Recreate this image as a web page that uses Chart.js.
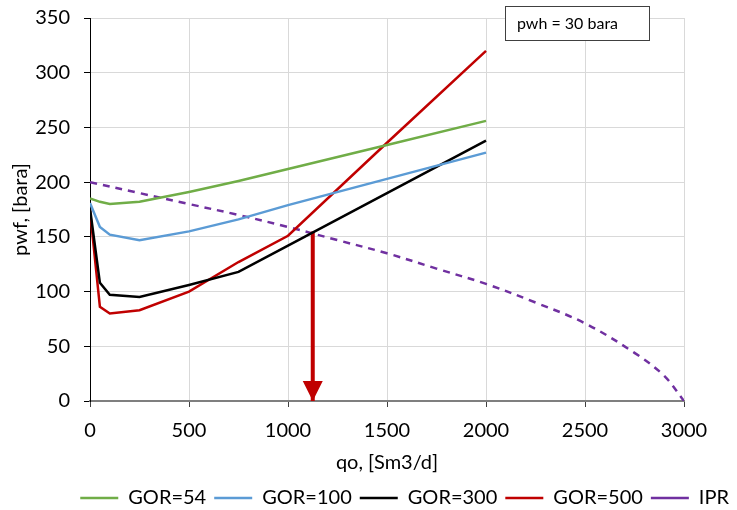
<!DOCTYPE html>
<html>
<head>
<meta charset="utf-8">
<script src="https://cdn.jsdelivr.net/npm/chart.js@4/dist/chart.umd.min.js"></script>
<style>
  html, body { margin: 0; padding: 0; background: #ffffff; }
  #wrap { width: 737px; height: 510px; position: relative; }
</style>
</head>
<body>
<div id="wrap"><canvas id="c" width="737" height="510"></canvas></div>
<script>
// ---- data ----
const qo      = [0, 50, 100, 250, 500, 750, 1000, 1500, 2000];
const gor54   = [185, 182, 180, 182, 191, 201, 212, 234, 256];
const gor100  = [181, 159, 152, 147, 155, 166, 179, 203, 227];
const gor300  = [176, 108, 97, 95, 106, 118, 142, 190, 238];
const gor500  = [174, 86, 80, 83, 100, 127, 151, 236, 320];
const qIPR    = [0, 250, 500, 750, 1000, 1250, 1500, 1750, 2000, 2250, 2500, 2750, 2900, 3000];
const pIPR    = [200, 190, 180, 170, 159, 147, 135, 121, 107, 90, 71, 44, 23, 0];
const opQ     = [1125, 1125];
const opP     = [155, 0];
const xTicks  = [0, 500, 1000, 1500, 2000, 2500, 3000];
const yTicks  = [0, 50, 100, 150, 200, 250, 300, 350];
const seriesNames = ['GOR=54', 'GOR=100', 'GOR=300', 'GOR=500', 'IPR'];
const noteText = 'pwh = 30 bara';

const pts = (xs, ys) => xs.map((x, i) => ({ x: x, y: ys[i] }));
const FONT = 'Lato, "Open Sans", sans-serif';

const arrowHead = {
  id: 'arrowHead',
  afterDatasetsDraw(chart) {
    const ds = chart.data.datasets.find(d => d.isArrow);
    if (!ds) return;
    const xs = chart.scales.x, ys = chart.scales.y;
    const end = ds.data[ds.data.length - 1];
    const px = xs.getPixelForValue(end.x), py = ys.getPixelForValue(end.y);
    const ctx = chart.ctx;
    ctx.save();
    ctx.fillStyle = '#c00000';
    ctx.beginPath();
    ctx.moveTo(px, py);
    ctx.lineTo(px - 10, py - 20);
    ctx.lineTo(px + 10, py - 20);
    ctx.closePath();
    ctx.fill();
    ctx.restore();
  }
};

const noteBox = {
  id: 'noteBox',
  afterDraw(chart) {
    const ctx = chart.ctx;
    ctx.save();
    ctx.fillStyle = '#ffffff';
    ctx.fillRect(505.5, 6.5, 144, 34);
    ctx.strokeStyle = '#404040';
    ctx.lineWidth = 1;
    ctx.strokeRect(505.5, 6.5, 144, 34);
    ctx.fillStyle = '#000000';
    ctx.font = '16px ' + FONT;
    ctx.textBaseline = 'middle';
    ctx.textAlign = 'left';
    ctx.fillText(noteText, 517, 24);
    ctx.restore();
  }
};

const colors = ['#70ad47', '#5b9bd5', '#000000', '#c00000', '#7030a0'];
const series = [gor54, gor100, gor300, gor500];

const datasets = series.map((s, i) => ({
  label: seriesNames[i],
  data: pts(qo, s),
  borderColor: colors[i],
  backgroundColor: colors[i],
  borderWidth: 2.5,
  pointRadius: 0,
  tension: 0,
  fill: false
}));
datasets.push({
  label: seriesNames[4],
  data: pts(qIPR, pIPR),
  borderColor: colors[4],
  backgroundColor: colors[4],
  borderWidth: 2.5,
  borderDash: [7, 6],
  pointRadius: 0,
  tension: 0.35,
  fill: false
});
datasets.push({
  label: 'arrow',
  isArrow: true,
  data: pts(opQ, opP),
  borderColor: '#c00000',
  backgroundColor: '#c00000',
  borderWidth: 4,
  pointRadius: 0,
  fill: false
});

new Chart(document.getElementById('c'), {
  type: 'line',
  data: { datasets: datasets },
  plugins: [arrowHead, noteBox],
  options: {
    responsive: false,
    animation: false,
    layout: { padding: { left: 0, right: 0, top: 18, bottom: -8 } },
    plugins: {
      tooltip: { enabled: false },
      legend: {
        position: 'bottom',
        align: 'end',
        labels: {
          filter: (item) => item.text !== 'arrow',
          usePointStyle: true,
          pointStyle: 'line',
          pointStyleWidth: 38,
          boxHeight: 2,
          padding: 8,
          color: '#000000',
          font: { family: FONT, size: 20 }
        }
      }
    },
    scales: {
      x: {
        type: 'linear',
        min: 0, max: 3000,
        afterBuildTicks: (ax) => { ax.ticks = xTicks.map(v => ({ value: v })); },
        afterFit: (ax) => { ax.height = 79; },
        grid: { color: '#d9d9d9', lineWidth: 1, tickColor: '#404040', tickLength: 6, drawTicks: true },
        border: { color: '#7f7f7f', width: 2 },
        ticks: { color: '#000000', padding: 12, maxRotation: 0, font: { family: FONT, size: 20 },
                 callback: (v) => String(v) },
        title: { display: true, text: 'qo, [Sm3/d]', color: '#000000', padding: { top: 0, bottom: 5 }, font: { family: FONT, size: 20 } }
      },
      y: {
        type: 'linear',
        min: 0, max: 350,
        afterBuildTicks: (ax) => { ax.ticks = yTicks.map(v => ({ value: v })); },
        afterFit: (ax) => { ax.width = 90; ax.paddingTop = 8; ax.paddingBottom = 8; },
        grid: { color: '#d9d9d9', lineWidth: 1, tickColor: '#000000', tickLength: 6, drawTicks: true },
        border: { color: '#000000', width: 1 },
        ticks: { color: '#000000', padding: 14, font: { family: FONT, size: 20 },
                 callback: (v) => String(v) },
        title: { display: true, text: 'pwf, [bara]', color: '#000000', padding: { top: 9, bottom: 0 }, font: { family: FONT, size: 20 } }
      },
      yRight: {
        type: 'linear',
        position: 'right',
        min: 0, max: 350,
        afterFit: (ax) => { ax.width = 53; ax.paddingTop = 0; ax.paddingBottom = 0; },
        grid: { display: false },
        border: { display: false },
        ticks: { display: false },
        title: { display: false }
      }
    }
  }
});
</script>
</body>
</html>
